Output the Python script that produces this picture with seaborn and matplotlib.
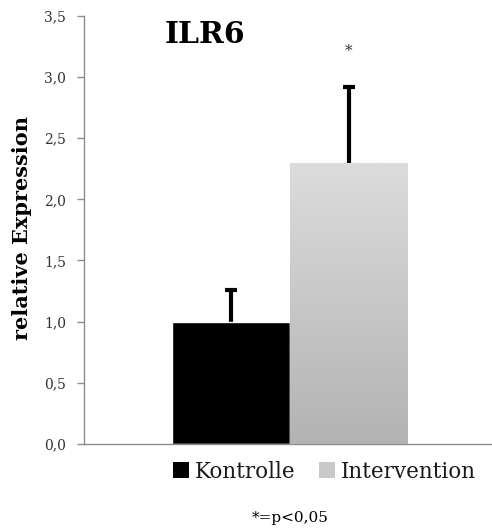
import numpy as np
import pandas as pd
import matplotlib
matplotlib.use("Agg")
import matplotlib.pyplot as plt
import seaborn as sns

# Relative expression of ILR6 per group
groups = ["Kontrolle", "Intervention"]
means = [1.0, 2.29]
errors_up = [0.26, 0.63]
tick_values = [0.0, 0.5, 1.0, 1.5, 2.0, 2.5, 3.0, 3.5]
tick_labels = ["0,0", "0,5", "1,0", "1,5", "2,0", "2,5", "3,0", "3,5"]
bar_colors = ["#000000", "#c9c9c9"]

df = pd.DataFrame({"Gruppe": groups, "Expression": means})

sns.set_style("white")
plt.rcParams["font.family"] = ["DejaVu Serif"]

fig = plt.figure(figsize=(4.92, 5.31), dpi=100)
ax = fig.add_axes([0.171, 0.164, 0.829, 0.806])

sns.barplot(data=df, x="Gruppe", y="Expression", hue="Gruppe",
            palette=dict(zip(groups, bar_colors)), width=1.0,
            errorbar=None, legend=False, ax=ax, zorder=2)

# vertical gradient on the Intervention bar
grad_patch = ax.patches[1]
x0, w = grad_patch.get_x(), grad_patch.get_width()
h = grad_patch.get_height()
grad = np.linspace(0, 1, 256).reshape(-1, 1)
cmap = matplotlib.colors.LinearSegmentedColormap.from_list(
    "bar_grad", ["#b3b3b3", "#dcdcdc"])
ax.imshow(grad, extent=[x0, x0 + w, 0, h], origin="lower", cmap=cmap,
          aspect="auto", zorder=3)

# error bars drawn behind the bars, so only the upper half shows
centers = [p.get_x() + p.get_width() / 2 for p in ax.patches[:2]]
ax.errorbar(centers, means, yerr=errors_up,
            fmt="none", ecolor="black", elinewidth=3, capsize=4.5,
            capthick=3, zorder=1)

ax.set_xlim(-1.25, 2.22)
ax.set_ylim(0, 3.5)
ax.set_yticks(tick_values)
ax.set_yticklabels(tick_labels, fontsize=10, color="#333333")
ax.set_xticks([])
ax.set_xlabel("")
ax.set_ylabel("relative Expression", fontsize=15, fontweight="bold",
              color="black")
ax.yaxis.set_label_coords(-0.127, 0.505)

for side in ["top", "right"]:
    ax.spines[side].set_visible(False)
for side in ["left", "bottom"]:
    ax.spines[side].set_color("#8c8c8c")
    ax.spines[side].set_linewidth(1.0)
ax.tick_params(axis="y", which="major", left=True, length=5, width=1,
               color="#8c8c8c", pad=8, direction="out")

# title and significance marks
ax.text(-0.22, 3.35, "ILR6", fontsize=21.5, fontweight="bold", ha="center",
        va="center", color="black")
ax.text(centers[1], means[1] + errors_up[1] + 0.29, "*", fontsize=11,
        ha="center", va="center", color="#333333")

# legend below the axis
handles = [matplotlib.patches.Patch(facecolor=c, edgecolor="none")
           for c in bar_colors]
leg = fig.legend(handles, groups, loc="center", bbox_to_anchor=(0.66, 0.112),
                 ncol=2, frameon=False, fontsize=15.5, handlelength=0.72,
                 handleheight=0.72, handletextpad=0.3, columnspacing=1.1)
for t in leg.get_texts():
    t.set_color("#1a1a1a")

fig.text(0.59, 0.025, "*=p<0,05", fontsize=11, ha="center", va="center",
         color="black")

fig.savefig("out.png", dpi=100)
